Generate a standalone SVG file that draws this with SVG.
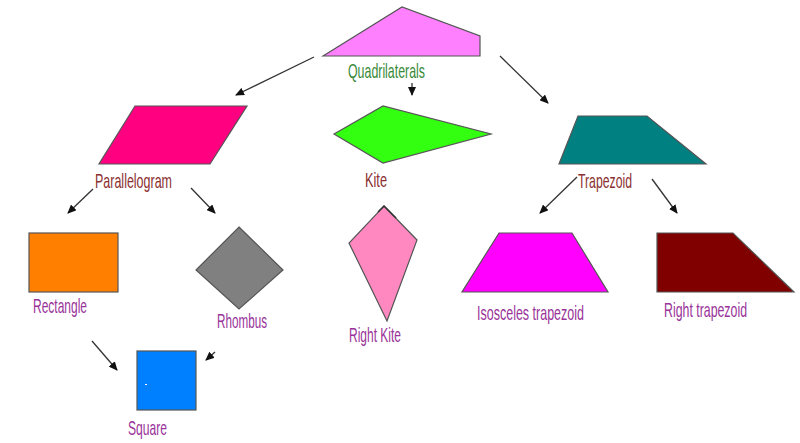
<svg xmlns="http://www.w3.org/2000/svg" width="800" height="443" viewBox="0 0 800 443">
<defs>
<marker id="ah" markerWidth="9" markerHeight="8" refX="8" refY="4" orient="auto" markerUnits="userSpaceOnUse">
<path d="M0,0 L9,4 L0,8 z" fill="#111"/>
</marker>
<style>
.shape{stroke:#555;stroke-width:1.2}
.lbl{font-family:"Liberation Sans","DejaVu Sans",sans-serif;font-size:21px}
.red{fill:#8a3030}
.pur{fill:#993399}
.grn{fill:#3a8a3a}
.conn line{stroke:#333;stroke-width:1.3;marker-end:url(#ah)}
</style>
</defs>
<rect width="800" height="443" fill="#ffffff"/>
<g id="quadrilaterals">
<polygon class="shape" points="323,56 402,7 480,36 480,56" fill="#ff80ff"/>
<text class="lbl grn" x="348" y="78" textLength="77" lengthAdjust="spacingAndGlyphs">Quadrilaterals</text>
</g>
<g id="parallelogram">
<polygon class="shape" points="135,106 247,106 210,164 99,164" fill="#ff0080"/>
<text class="lbl red" x="95" y="188" textLength="77" lengthAdjust="spacingAndGlyphs">Parallelogram</text>
</g>
<g id="kite">
<polygon class="shape" points="334,134 383,106 491,134 383,163" fill="#33ff11"/>
<text class="lbl red" x="365" y="187" textLength="22" lengthAdjust="spacingAndGlyphs">Kite</text>
</g>
<g id="trapezoid">
<polygon class="shape" points="578,116 647,116 706,164 559,164" fill="#008080"/>
<text class="lbl red" x="578" y="188" textLength="54" lengthAdjust="spacingAndGlyphs">Trapezoid</text>
</g>
<g id="rectangle">
<rect class="shape" x="29" y="233" width="89" height="59" fill="#ff8000" stroke="#553311"/>
<text class="lbl pur" x="33" y="313" textLength="54" lengthAdjust="spacingAndGlyphs">Rectangle</text>
</g>
<g id="rhombus">
<polygon class="shape" points="239,227 283,270 239,309 196,270" fill="#808080" stroke="#aaaaaa"/>
<text class="lbl pur" x="217" y="328" textLength="50" lengthAdjust="spacingAndGlyphs">Rhombus</text>
</g>
<g id="square">
<rect class="shape" x="137" y="351" width="59" height="59" fill="#0080ff" stroke="#224466"/>
<rect x="145" y="384" width="2" height="1" fill="#ffffff"/>
<text class="lbl pur" x="128" y="435" textLength="39" lengthAdjust="spacingAndGlyphs">Square</text>
</g>
<g id="right-kite">
<polygon class="shape" points="384,206 417,240 387,321 349,243" fill="#ff88c0"/>
<path d="M378,212 L384,206 L396,218" fill="none" stroke="#333" stroke-width="1.5"/>
<text class="lbl pur" x="349" y="342" textLength="52" lengthAdjust="spacingAndGlyphs">Right Kite</text>
</g>
<g id="isosceles-trapezoid">
<polygon class="shape" points="499,233 572,233 608,292 462,292" fill="#ff00ff"/>
<text class="lbl pur" x="477" y="320" textLength="107" lengthAdjust="spacingAndGlyphs">Isosceles trapezoid</text>
</g>
<g id="right-trapezoid">
<polygon class="shape" points="657,233 733,233 794,292 657,292" fill="#800000"/>
<text class="lbl pur" x="664" y="317" textLength="83" lengthAdjust="spacingAndGlyphs">Right trapezoid</text>
</g>
<g id="connectors" class="conn">
<line x1="314" y1="57" x2="236" y2="95"/>
<line x1="412" y1="83" x2="412" y2="95"/>
<line x1="500" y1="56" x2="548" y2="103"/>
<line x1="93" y1="189" x2="68" y2="213"/>
<line x1="191" y1="188" x2="215" y2="213"/>
<line x1="577" y1="177" x2="540" y2="213"/>
<line x1="652" y1="179" x2="677" y2="213"/>
<line x1="92" y1="341" x2="117" y2="370"/>
<line x1="215" y1="352" x2="206" y2="360"/>
</g>
</svg>
